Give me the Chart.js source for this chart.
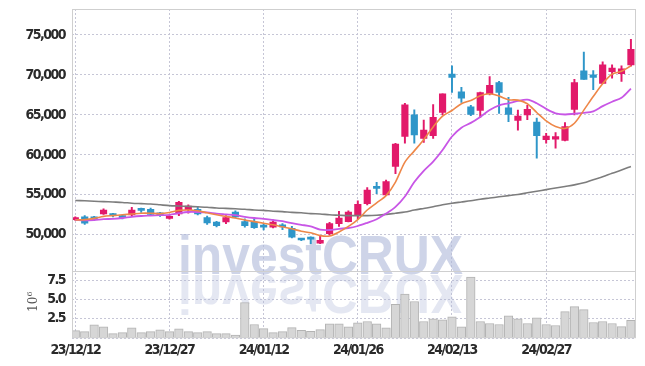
<!DOCTYPE html>
<html>
<head>
<meta charset="utf-8">
<script src="https://cdn.jsdelivr.net/npm/chart.js@4/dist/chart.umd.min.js"></script>
<style>
  html, body { margin: 0; padding: 0; background: #fff; }
  #chart { display: block; }
</style>
</head>
<body>
<canvas id="chart" width="645" height="366"></canvas>
<script>
// trading days (yy/mm/dd)
const dates = [
  '23/12/12','23/12/13','23/12/14','23/12/15','23/12/18','23/12/19','23/12/20','23/12/21','23/12/22','23/12/26',
  '23/12/27','23/12/28','24/01/02','24/01/03','24/01/04','24/01/05','24/01/08','24/01/09','24/01/10','24/01/11',
  '24/01/12','24/01/15','24/01/16','24/01/17','24/01/18','24/01/19','24/01/22','24/01/23','24/01/24','24/01/25',
  '24/01/26','24/01/29','24/01/30','24/01/31','24/02/01','24/02/02','24/02/05','24/02/06','24/02/07','24/02/08',
  '24/02/13','24/02/14','24/02/15','24/02/16','24/02/19','24/02/20','24/02/21','24/02/22','24/02/23','24/02/26',
  '24/02/27','24/02/28','24/02/29','24/03/04','24/03/05','24/03/06','24/03/07','24/03/08','24/03/11','24/03/12'
];

const open = [
  51900, 52250, 52050, 52600, 52600, 52250, 52500, 53100, 53200, 52700,
  52050, 52600, 53150, 53200, 52150, 51600, 51600, 52850, 51650, 51600,
  51150, 50950, 51100, 50800, 49400, 49500, 48950, 50150, 51400, 51650,
  52500, 53900, 55900, 55000, 58550, 62300, 65000, 62050, 62400, 65300,
  70100, 67900, 66000, 65550, 67650, 69050, 65900, 64300, 65000, 64100,
  61900, 61950, 61800, 65700, 70500, 70000, 68950, 70400, 70150, 71250
];
const high = [
  52250, 52400, 52300, 53250, 52700, 52450, 53450, 53350, 53350, 52800,
  52400, 54200, 53750, 53500, 52350, 51700, 52400, 53000, 52000, 52000,
  51400, 51700, 51400, 51050, 49500, 49750, 49900, 51550, 52950, 53000,
  54250, 55900, 56550, 56850, 61450, 66450, 65650, 64350, 66300, 67650,
  71150, 68450, 66200, 67850, 69800, 69200, 67200, 65600, 66200, 64600,
  62700, 62800, 64050, 69450, 72850, 70550, 71650, 71250, 71150, 74450
];
const low = [
  51800, 51300, 51800, 52550, 52250, 52000, 52400, 52800, 52400, 52300,
  51950, 52400, 52700, 52500, 51300, 51000, 51400, 52100, 50950, 50800,
  50600, 50850, 50650, 49600, 49250, 48900, 48900, 49950, 51050, 51600,
  52000, 53750, 55150, 54900, 57650, 61450, 61450, 61550, 62050, 65000,
  67800, 66550, 64900, 64700, 67500, 65200, 64150, 63100, 64400, 59600,
  61450, 60850, 61750, 65000, 69450, 68150, 68900, 69600, 69200, 71100
];
const close = [
  52150, 51450, 52000, 53100, 52400, 52150, 53100, 53050, 52550, 52500,
  52300, 54050, 53600, 52600, 51500, 51150, 52150, 52250, 51150, 50900,
  50950, 51600, 51000, 49700, 49350, 49450, 49300, 51400, 52100, 52850,
  53800, 55600, 55800, 56650, 61350, 66250, 62500, 63100, 64700, 67650,
  69700, 67100, 65050, 67800, 68700, 67800, 65050, 64850, 65700, 62400,
  62350, 62300, 63550, 69050, 69450, 69700, 71250, 70850, 70750, 73200
];

// moving averages
const maShort = [
  51850, 51900, 52050, 52300, 52400, 52500, 52600, 52700, 52700, 52650,
  52800, 53050, 53100, 53000, 52750, 52500, 52300, 52100, 51850, 51650,
  51450, 51250, 51000, 50750, 50450, 50250, 49900, 49850, 50350, 51050,
  51900, 53100, 54000, 54900, 56600, 59100, 60500, 61900, 63500, 64850,
  65550, 66400, 66800, 67400, 67650, 67350, 66900, 66850, 66400, 65300,
  64250, 63550, 63300, 63950, 65600, 67300, 68900, 70100, 70450, 71150
];
const maMid = [
  51850, 51800, 51850, 51950, 52000, 52100, 52250, 52350, 52400, 52450,
  52500, 52700, 52850, 52850, 52800, 52650, 52550, 52450, 52250, 52100,
  52000, 51850, 51700, 51450, 51250, 51050, 50650, 50600, 50750, 50850,
  51100, 51500, 51950, 52650, 53500, 54800, 56600, 58000, 59150, 60600,
  62300, 63400, 64000, 64750, 65600, 66200, 66450, 66750, 66900, 66450,
  65750, 65200, 65050, 65150, 65250, 65450, 66100, 66650, 67150, 68300
];
const maLong = [
  54300, 54250, 54200, 54150, 54100, 54050, 53950, 53900, 53850, 53750,
  53650, 53600, 53550, 53500, 53450, 53350, 53300, 53250, 53200, 53100,
  53050, 52950, 52900, 52800, 52750, 52650, 52600, 52500, 52450, 52400,
  52400, 52400, 52450, 52550, 52700, 52850, 53100, 53300, 53500, 53750,
  53950, 54100, 54250, 54450, 54600, 54750, 54900, 55050, 55250, 55450,
  55650, 55850, 56050, 56250, 56500, 56900, 57250, 57700, 58100, 58550
];

// volume, millions of shares
const volume = [
  0.98, 0.85, 1.73, 1.47, 0.59, 0.72, 1.33, 0.72, 0.85, 1.07,
  0.85, 1.20, 0.85, 0.72, 0.85, 0.59, 0.59, 0.41, 4.60, 1.77,
  1.24, 0.72, 0.85, 1.37, 1.02, 0.89, 1.11, 1.85, 1.85, 1.47,
  1.99, 2.16, 1.85, 1.33, 4.38, 5.69, 4.73, 2.16, 2.51, 2.38,
  2.77, 1.47, 7.88, 2.16, 1.90, 1.77, 2.90, 2.51, 1.90, 2.64,
  1.77, 1.64, 3.43, 4.08, 3.69, 2.03, 2.16, 1.90, 1.50, 2.29
];

const priceTicks = [50000, 55000, 60000, 65000, 70000, 75000];
const volTicks = [0, 2.5, 5.0, 7.5];
const dateTicks = [0, 10, 20, 30, 40, 50];

const RED = '#e2196a';
const BLUE = '#2e96c9';
const GRID = '#c6c6d6';
const TEXT = '#2a2a2a';
const FONT = "'DejaVu Sans Condensed', 'DejaVu Sans', sans-serif";
const TICK_FONT = { family: FONT, size: 14, weight: 'bold' };

const candleColor = (ctx) => {
  const i = ctx.dataIndex;
  return close[i] >= open[i] ? RED : BLUE;
};

const noPad = (s) => {
  s.paddingTop = 0; s.paddingBottom = 0; s.paddingLeft = 0; s.paddingRight = 0;
};
const fixTicks = (list) => (s) => { s.ticks = list.map((v) => ({ value: v })); };

// tighter tick text, watermark, frame and volume axis title
const decor = {
  id: 'decor',
  beforeUpdate(chart) { chart.ctx.letterSpacing = '-1.5px'; },
  beforeDraw(chart) { chart.ctx.letterSpacing = '-1.5px'; },
  beforeDatasetsDraw(chart) {
    const { ctx, chartArea: a } = chart;
    ctx.save();
    ctx.letterSpacing = '0px';
    ctx.beginPath();
    ctx.rect(a.left, a.top, a.right - a.left, a.bottom - a.top);
    ctx.clip();
    const txt = 'investCRUX';
    ctx.font = "bold 56px 'Liberation Sans', Arial, sans-serif";
    const w = ctx.measureText(txt).width;
    const sx = 285 / w;
    const base = 273.5;
    ctx.textAlign = 'center';
    ctx.textBaseline = 'alphabetic';
    ctx.save();
    ctx.translate(320.5, base);
    ctx.scale(sx, 1);
    ctx.fillStyle = 'rgba(176,185,218,0.62)';
    ctx.fillText(txt, 0, 0);
    ctx.restore();
    ctx.save();
    ctx.translate(320.5, base + 1.5);
    ctx.scale(sx, -1);
    ctx.fillStyle = 'rgba(176,185,218,0.34)';
    ctx.fillText(txt, 0, 0);
    ctx.restore();
    ctx.restore();
  },
  afterDraw(chart) {
    const { ctx, chartArea: a } = chart;
    const sep = chart.scales.yv.top;
    ctx.save();
    ctx.letterSpacing = '0px';
    ctx.strokeStyle = '#cfcfcf';
    ctx.lineWidth = 1;
    ctx.strokeRect(a.left + 0.5, a.top + 0.5, a.right - a.left - 1, a.bottom - a.top - 1);
    ctx.beginPath();
    ctx.moveTo(a.left, Math.round(sep) + 0.5);
    ctx.lineTo(a.right, Math.round(sep) + 0.5);
    ctx.stroke();
    // axis title 10^6
    ctx.translate(34, 304);
    ctx.rotate(-Math.PI / 2);
    ctx.fillStyle = '#555';
    ctx.textBaseline = 'middle';
    ctx.textAlign = 'left';
    ctx.font = "12px 'DejaVu Serif', serif";
    ctx.fillText('10', -8, 0);
    ctx.font = "8px 'DejaVu Serif', serif";
    ctx.fillText('6', 7.5, -4.5);
    ctx.restore();
  }
};

const idx = (arr) => arr.map((v, i) => ({ x: i, y: v }));

new Chart(document.getElementById('chart'), {
  type: 'bar',
  data: {
    datasets: [
      { type: 'line', label: 'MA long', data: idx(maLong), yAxisID: 'y', borderColor: '#7d7d7d',
        borderWidth: 1.6, pointRadius: 0, tension: 0.3, order: 3 },
      { type: 'line', label: 'MA mid', data: idx(maMid), yAxisID: 'y', borderColor: '#c856e6',
        borderWidth: 1.8, pointRadius: 0, tension: 0.3, order: 2 },
      { type: 'line', label: 'MA short', data: idx(maShort), yAxisID: 'y', borderColor: '#ee8748',
        borderWidth: 1.6, pointRadius: 0, tension: 0.3, order: 1 },
      { label: 'body', data: dates.map((d, i) => ({ x: i, y: [open[i], close[i]] })), yAxisID: 'y',
        backgroundColor: candleColor, borderColor: candleColor, borderWidth: 0,
        barThickness: 6.5, minBarLength: 2, grouped: false, order: 4 },
      { label: 'wick', data: dates.map((d, i) => ({ x: i, y: [low[i], high[i]] })), yAxisID: 'y',
        backgroundColor: candleColor, borderWidth: 0, barThickness: 1.3, grouped: false, order: 5 },
      { label: 'volume', data: idx(volume), yAxisID: 'yv',
        backgroundColor: '#d6d6d6', borderColor: '#b3b3b3', borderWidth: 1,
        barThickness: 8.6, grouped: false, order: 6 }
    ]
  },
  options: {
    responsive: false,
    animation: false,
    devicePixelRatio: 1,
    layout: { padding: { top: 9, right: 9, left: 0, bottom: 3 } },
    plugins: { legend: { display: false }, tooltip: { enabled: false } },
    scales: {
      x: {
        type: 'linear', min: -0.35, max: 59.54, offset: false,
        grid: { color: GRID, drawTicks: false, offset: false },
        border: { display: false, dash: [2, 2] },
        afterBuildTicks: fixTicks(dateTicks),
        ticks: {
          autoSkip: false, maxRotation: 0, padding: 4,
          color: TEXT, font: TICK_FONT,
          callback: (v) => dates[v] || ''
        },
        afterFit: noPad
      },
      y: {
        type: 'linear', position: 'left', stack: 'panes', stackWeight: 262, weight: 2,
        min: 45500, max: 78250,
        grid: { color: GRID, drawTicks: false },
        border: { display: false, dash: [2, 2] },
        afterBuildTicks: fixTicks(priceTicks),
        ticks: {
          autoSkip: false, padding: 7, color: TEXT, font: TICK_FONT,
          callback: (v) => v.toLocaleString('en-US')
        },
        afterFit: (s) => { s.width = 72; noPad(s); }
      },
      yv: {
        type: 'linear', position: 'left', stack: 'panes', stackWeight: 67.5, weight: 1,
        min: 0, max: 8.7,
        grid: { color: GRID, drawTicks: false },
        border: { display: false, dash: [2, 2] },
        afterBuildTicks: fixTicks(volTicks),
        ticks: {
          autoSkip: false, padding: 7, color: TEXT, font: TICK_FONT,
          callback: (v) => v === 0 ? '' : v.toFixed(1)
        },
        afterFit: (s) => { s.width = 72; noPad(s); }
      }
    }
  },
  plugins: [decor]
});
</script>
</body>
</html>
